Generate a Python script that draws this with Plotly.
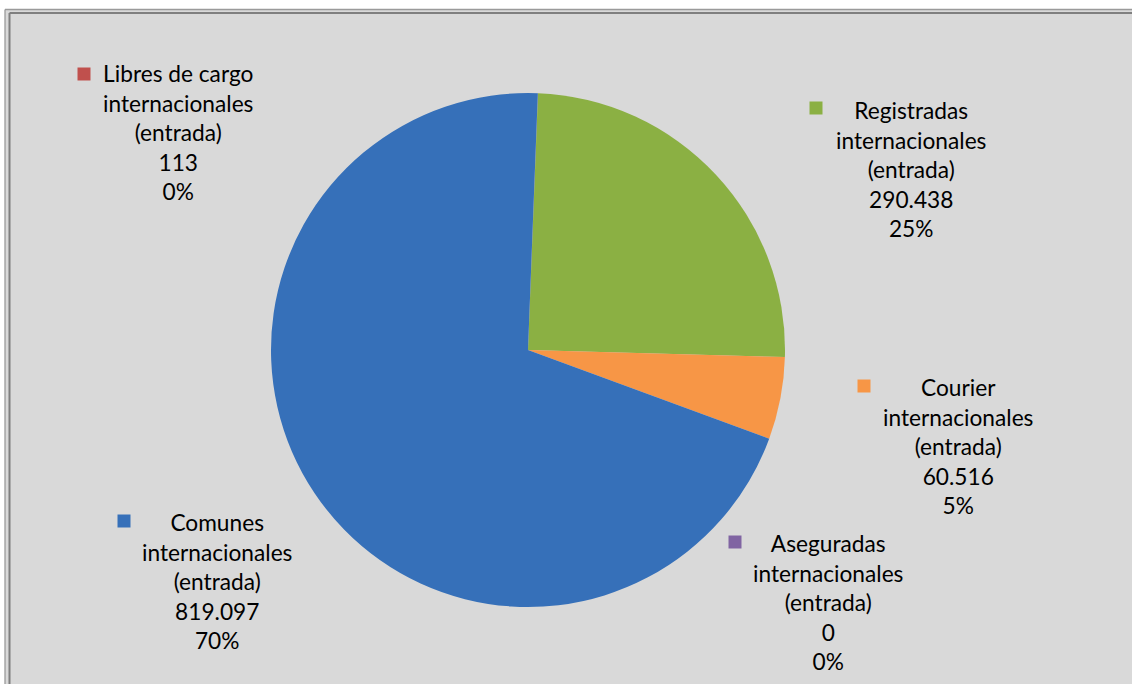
import plotly.graph_objects as go

# ---- data ----
categories = ["Libres de cargo internacionales (entrada)",
              "Registradas internacionales (entrada)",
              "Courier internacionales (entrada)",
              "Aseguradas internacionales (entrada)",
              "Comunes internacionales (entrada)"]
label_lines = ["Libres de cargo<br>internacionales<br>(entrada)",
               "Registradas<br>internacionales<br>(entrada)",
               "Courier<br>internacionales<br>(entrada)",
               "Aseguradas<br>internacionales<br>(entrada)",
               "Comunes<br>internacionales<br>(entrada)"]
values = [113, 290438, 60516, 0, 819097]
colors = ["#c0504d", "#8bb043", "#f79646", "#8064a2", "#3670b9"]
title_text = "Resultado internacional de entrada (Enero - Diciembre 2014)"

W, H = 1132, 684
total = sum(values)

def px(x):
    return x / W

def py(y):
    return 1 - y / H

# pie geometry (pixels)
cx, cy, r = 528, 350, 257

fig = go.Figure(go.Pie(
    labels=categories,
    values=values,
    marker=dict(colors=colors, line=dict(width=0)),
    sort=False,
    direction="clockwise",
    rotation=2.2,
    textinfo="none",
    hoverinfo="label+value+percent",
    showlegend=False,
    domain=dict(x=[px(cx - r), px(cx + r)], y=[py(cy + r), py(cy - r)]),
))

# label layout: (text center x, first-line y, marker x, marker y)
label_pos = [(178, 74, 84, 74),
             (911, 110, 816, 108),
             (958, 387, 864, 386),
             (828, 543, 735, 542),
             (217, 522, 124, 521)]

def fmt_val(v):
    return f"{v:,}".replace(",", ".")

annotations = []
shapes = []

# background panel (no outline) and double border on the visible left/top edges
shapes.append(dict(type="rect", xref="paper", yref="paper", layer="below",
                   x0=px(5), x1=1, y0=0, y1=py(9.5),
                   fillcolor="#d9d9d9", line=dict(width=0)))
for (x_, y_, col, w_) in [(5, 9.5, "#9a9a9a", 1.3), (9.5, 13, "#7f7f7f", 2)]:
    shapes.append(dict(type="line", xref="paper", yref="paper", layer="below",
                       x0=px(x_), x1=px(x_), y0=0, y1=py(y_),
                       line=dict(color=col, width=w_)))
    shapes.append(dict(type="line", xref="paper", yref="paper", layer="below",
                       x0=px(x_), x1=1, y0=py(y_), y1=py(y_),
                       line=dict(color=col, width=w_)))

line_h = 29.5
for i, (tx, ty, mx, my) in enumerate(label_pos):
    pct = round(values[i] / total * 100)
    text = f"{label_lines[i]}<br>{fmt_val(values[i])}<br>{pct}%"
    annotations.append(dict(x=px(tx), y=py(ty + 2 * line_h), xref="paper", yref="paper",
                            text=text, showarrow=False, align="center",
                            xanchor="center", yanchor="middle",
                            font=dict(family="Lato", size=22.7, color="#000000")))
    shapes.append(dict(type="rect", xref="paper", yref="paper",
                       xsizemode="pixel", ysizemode="pixel",
                       xanchor=px(mx), yanchor=py(my),
                       x0=-6.5, x1=6.5, y0=-6.5, y1=6.5,
                       fillcolor=colors[i], line=dict(width=0)))

# title (mostly above the visible area, as in the reference)
annotations.append(dict(x=px(620), y=py(3), xref="paper", yref="paper",
                        text=f"<b>{title_text}</b>", showarrow=False,
                        xanchor="center", yanchor="bottom",
                        font=dict(family="Lato", size=24, color="#000000")))

fig.update_layout(
    width=W, height=H,
    margin=dict(l=0, r=0, t=0, b=0),
    paper_bgcolor="#ffffff",
    plot_bgcolor="#d9d9d9",
    annotations=annotations,
    shapes=shapes,
)

fig.write_html("out.html",
               config={"displayModeBar": False},
               post_script="document.body.style.margin='0';document.body.style.overflow='hidden';")
